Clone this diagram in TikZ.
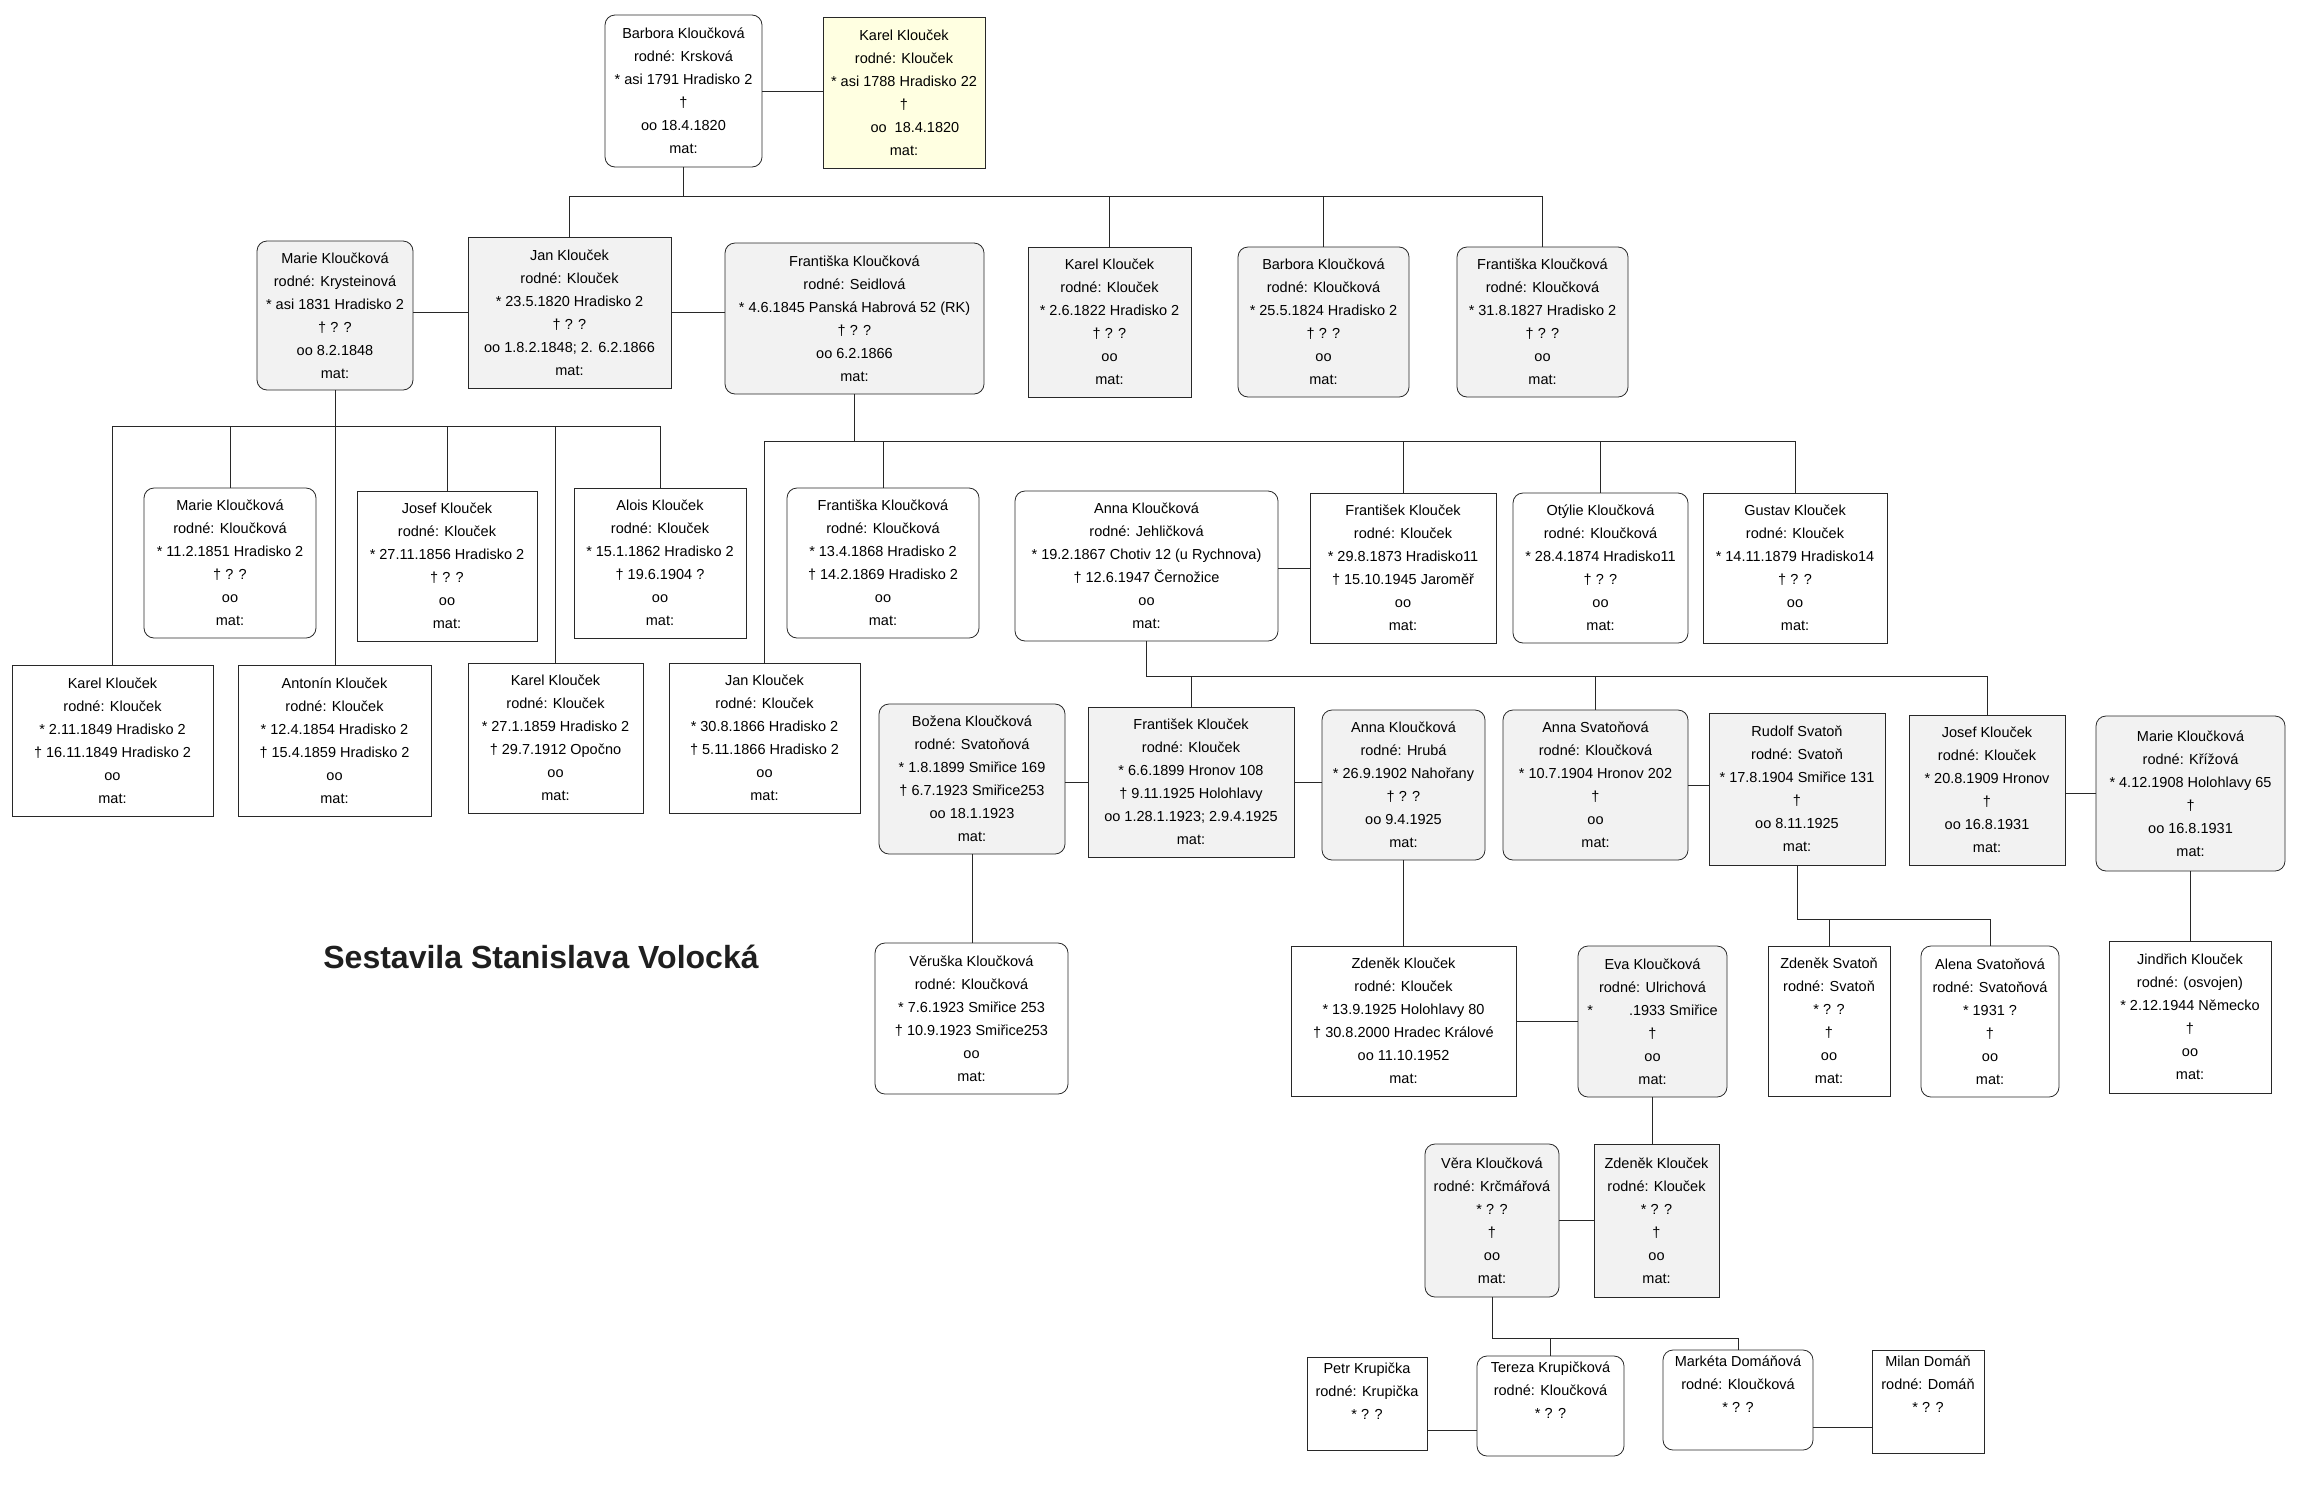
\documentclass[tikz,border=0pt]{standalone}
\usepackage{fontspec}
\setmainfont{Liberation Sans}
\definecolor{boxgray}{RGB}{242,242,242}
\definecolor{boxyellow}{RGB}{255,255,225}
\definecolor{lineclr}{RGB}{40,40,40}
\tikzset{
  pbox/.style={draw=lineclr, line width=0.8pt, align=center, inner sep=0pt, font=\fontsize{14.5}{23}\selectfont},
  sq/.style={pbox},
  rd/.style={pbox, rounded corners=10pt},
  gr/.style={fill=boxgray},
  wh/.style={fill=white},
  ye/.style={fill=boxyellow},
  ptext/.style={align=center, inner sep=0pt, font=\fontsize{14.5}{23}\selectfont},
  link/.style={draw=lineclr, line width=0.8pt},
}
\newcommand\personbox[7]{\node[#6, minimum width={(#4)-(#2)}, minimum height={(#5)-(#3)}] (#1) at ({((#2)+(#4))/2},{((#3)+(#5))/2}) {#7};}
\begin{document}
\begin{tikzpicture}[x=1pt,y=-1pt]
\useasboundingbox (0,0) rectangle (2306,1486);
\fill[white] (0,0) rectangle (2306,1486);
% row 0
\personbox{b0}{605}{15}{762}{167}{rd,wh}{Barbora Kloučková\\rodné: Krsková\\* asi 1791 Hradisko 2\\†\\oo 18.4.1820\\mat:}
\personbox{k0}{823}{17}{985}{168}{sq,ye}{Karel Klouček\\rodné: Klouček\\* asi 1788 Hradisko 22\\†\\\hspace{1.5em}oo\ \ 18.4.1820\\mat:}
% row 1
\personbox{mk}{257}{241}{413}{390}{rd,gr}{Marie Kloučková\\rodné: Krysteinová\\* asi 1831 Hradisko 2\\† ? ?\\oo 8.2.1848\\mat:}
\personbox{jan}{468}{237}{671}{388}{sq,gr}{Jan Klouček\\rodné: Klouček\\* 23.5.1820 Hradisko 2\\† ? ?\\oo 1.8.2.1848; 2. 6.2.1866\\mat:}
\personbox{fs}{725}{243}{984}{394}{rd,gr}{Františka Kloučková\\rodné: Seidlová\\* 4.6.1845 Panská Habrová 52 (RK)\\† ? ?\\oo 6.2.1866\\mat:}
\personbox{k1}{1028}{247}{1191}{397}{sq,gr}{Karel Klouček\\rodné: Klouček\\* 2.6.1822 Hradisko 2\\† ? ?\\oo\\mat:}
\personbox{bb1}{1238}{247}{1409}{397}{rd,gr}{Barbora Kloučková\\rodné: Kloučková\\* 25.5.1824 Hradisko 2\\† ? ?\\oo\\mat:}
\personbox{f1}{1457}{247}{1628}{397}{rd,gr}{Františka Kloučková\\rodné: Kloučková\\* 31.8.1827 Hradisko 2\\† ? ?\\oo\\mat:}
% row 2
\personbox{m51}{144}{488}{316}{638}{rd,wh}{Marie Kloučková\\rodné: Kloučková\\* 11.2.1851 Hradisko 2\\† ? ?\\oo\\mat:}
\personbox{jo56}{357}{491}{537}{641}{sq,wh}{Josef Klouček\\rodné: Klouček\\* 27.11.1856 Hradisko 2\\† ? ?\\oo\\mat:}
\personbox{al}{574}{488}{746}{638}{sq,wh}{Alois Klouček\\rodné: Klouček\\* 15.1.1862 Hradisko 2\\† 19.6.1904 ?\\oo\\mat:}
\personbox{f68}{787}{488}{979}{638}{rd,wh}{Františka Kloučková\\rodné: Kloučková\\* 13.4.1868 Hradisko 2\\† 14.2.1869 Hradisko 2\\oo\\mat:}
\personbox{aj}{1015}{491}{1278}{641}{rd,wh}{Anna Kloučková\\rodné: Jehličková\\* 19.2.1867 Chotiv 12 (u Rychnova)\\† 12.6.1947 Černožice\\oo\\mat:}
\personbox{fr73}{1310}{493}{1496}{643}{sq,wh}{František Klouček\\rodné: Klouček\\* 29.8.1873 Hradisko11\\† 15.10.1945 Jaroměř\\oo\\mat:}
\personbox{ot}{1513}{493}{1688}{643}{rd,wh}{Otýlie Kloučková\\rodné: Kloučková\\* 28.4.1874 Hradisko11\\† ? ?\\oo\\mat:}
\personbox{gu}{1703}{493}{1887}{643}{sq,wh}{Gustav Klouček\\rodné: Klouček\\* 14.11.1879 Hradisko14\\† ? ?\\oo\\mat:}
% row 3
\personbox{k49}{12}{665}{213}{816}{sq,wh}{Karel Klouček\\rodné: Klouček\\* 2.11.1849 Hradisko 2\\† 16.11.1849 Hradisko 2\\oo\\mat:}
\personbox{an}{238}{665}{431}{816}{sq,wh}{Antonín Klouček\\rodné: Klouček\\* 12.4.1854 Hradisko 2\\† 15.4.1859 Hradisko 2\\oo\\mat:}
\personbox{k59}{468}{663}{643}{813}{sq,wh}{Karel Klouček\\rodné: Klouček\\* 27.1.1859 Hradisko 2\\† 29.7.1912 Opočno\\oo\\mat:}
\personbox{j66}{669}{663}{860}{813}{sq,wh}{Jan Klouček\\rodné: Klouček\\* 30.8.1866 Hradisko 2\\† 5.11.1866 Hradisko 2\\oo\\mat:}
% row 4
\personbox{bo}{879}{704}{1065}{854}{rd,gr}{Božena Kloučková\\rodné: Svatoňová\\* 1.8.1899 Smiřice 169\\† 6.7.1923 Smiřice253\\oo 18.1.1923\\mat:}
\personbox{fr99}{1088}{707}{1294}{857}{sq,gr}{František Klouček\\rodné: Klouček\\* 6.6.1899 Hronov 108\\† 9.11.1925 Holohlavy\\oo 1.28.1.1923; 2.9.4.1925\\mat:}
\personbox{ah}{1322}{710}{1485}{860}{rd,gr}{Anna Kloučková\\rodné: Hrubá\\* 26.9.1902 Nahořany\\† ? ?\\oo 9.4.1925\\mat:}
\personbox{as}{1503}{710}{1688}{860}{rd,gr}{Anna Svatoňová\\rodné: Kloučková\\* 10.7.1904 Hronov 202\\†\\oo\\mat:}
\personbox{ru}{1709}{713}{1885}{865}{sq,gr}{Rudolf Svatoň\\rodné: Svatoň\\* 17.8.1904 Smiřice 131\\†\\oo 8.11.1925\\mat:}
\personbox{jo09}{1909}{715}{2065}{865}{sq,gr}{Josef Klouček\\rodné: Klouček\\* 20.8.1909 Hronov\\†\\oo 16.8.1931\\mat:}
\personbox{mkr}{2096}{716}{2285}{871}{rd,gr}{Marie Kloučková\\rodné: Křížová\\* 4.12.1908 Holohlavy 65\\†\\oo 16.8.1931\\mat:}
% row 5
\personbox{ve}{875}{943}{1068}{1094}{rd,wh}{Věruška Kloučková\\rodné: Kloučková\\* 7.6.1923 Smiřice 253\\† 10.9.1923 Smiřice253\\oo\\mat:}
\personbox{zd}{1291}{946}{1516}{1096}{sq,wh}{Zdeněk Klouček\\rodné: Klouček\\* 13.9.1925 Holohlavy 80\\† 30.8.2000 Hradec Králové\\oo 11.10.1952\\mat:}
\personbox{ev}{1578}{946}{1727}{1097}{rd,gr}{Eva Kloučková\\rodné: Ulrichová\\*\hspace{36pt}.1933 Smiřice\\†\\oo\\mat:}
\personbox{zs}{1768}{946}{1890}{1096}{sq,wh}{Zdeněk Svatoň\\rodné: Svatoň\\* ? ?\\†\\oo\\mat:}
\personbox{ale}{1921}{946}{2059}{1097}{rd,wh}{Alena Svatoňová\\rodné: Svatoňová\\* 1931 ?\\†\\oo\\mat:}
\personbox{ji}{2109}{941}{2271}{1093}{sq,wh}{Jindřich Klouček\\rodné: (osvojen)\\* 2.12.1944 Německo\\†\\oo\\mat:}
% row 6
\personbox{vk}{1425}{1144}{1559}{1297}{rd,gr}{Věra Kloučková\\rodné: Krčmářová\\* ? ?\\†\\oo\\mat:}
\personbox{zj}{1594}{1144}{1719}{1297}{sq,gr}{Zdeněk Klouček\\rodné: Klouček\\* ? ?\\†\\oo\\mat:}
% row 7
\personbox{pe}{1307}{1357}{1427}{1450}{sq,wh}{}
\personbox{te}{1477}{1356}{1624}{1456}{rd,wh}{}
\personbox{ma}{1663}{1350}{1813}{1450}{rd,wh}{}
\personbox{mi}{1872}{1350}{1984}{1453}{sq,wh}{}
\node[ptext, anchor=north] (pe-t) at ([yshift=-6pt]pe.north) {Petr Krupička\\rodné: Krupička\\* ? ?};
\node[ptext, anchor=north] (te-t) at ([yshift=-6pt]te.north) {Tereza Krupičková\\rodné: Kloučková\\* ? ?};
\node[ptext, anchor=north] (ma-t) at ([yshift=-6pt]ma.north) {Markéta Domáňová\\rodné: Kloučková\\* ? ?};
\node[ptext, anchor=north] (mi-t) at ([yshift=-6pt]mi.north) {Milan Domáň\\rodné: Domáň\\* ? ?};
% title
\node[font=\fontsize{32}{38}\selectfont\bfseries, text=black!88] (title) at (541,957) {Sestavila Stanislava Volocká};
% marriages
\draw[link] (b0.east) -- (b0.east -| k0.west);
\draw[link] (mk.east |- jan.west) -- (jan.west);
\draw[link] (jan.east) -- (jan.east -| fs.west);
\draw[link] (aj.east |- fr73.west) -- (fr73.west);
\draw[link] (bo.east |- fr99.west) -- (fr99.west);
\draw[link] (fr99.east) -- (fr99.east -| ah.west);
\draw[link] (as.east) -- (as.east -| ru.west);
\draw[link] (jo09.east |- mkr.west) -- (mkr.west);
\draw[link] (zd.east) -- (zd.east -| ev.west);
\draw[link] (vk.east) -- (vk.east -| zj.west);
\coordinate (mpt) at (0,1430);
\coordinate (mmm) at (0,1427);
\draw[link] (pe.east |- mpt) -- (te.west |- mpt);
\draw[link] (ma.east |- mmm) -- (mi.west |- mmm);
% descents
\coordinate (g1) at (0,196);
\draw[link] (b0.south) -- (b0.south |- g1);
\draw[link] (jan.north |- g1) -- (f1.north |- g1);
\foreach \n in {jan,k1,bb1,f1} \draw[link] (\n.north) -- (\n.north |- g1);
\coordinate (g2) at (0,426);
\draw[link] (mk.south) -- (mk.south |- an.north);
\draw[link] (k49.north |- g2) -- (al.north |- g2);
\foreach \n in {k49,m51,jo56,k59,al} \draw[link] (\n.north) -- (\n.north |- g2);
\coordinate (g3) at (0,441);
\draw[link] (fs.south) -- (fs.south |- g3);
\draw[link] (j66.north |- g3) -- (gu.north |- g3);
\foreach \n in {j66,f68,fr73,ot,gu} \draw[link] (\n.north) -- (\n.north |- g3);
\coordinate (g4) at (0,676);
\draw[link] (aj.south) -- (aj.south |- g4) -- (jo09.north |- g4);
\foreach \n in {fr99,as,jo09} \draw[link] (\n.north) -- (\n.north |- g4);
\draw[link] (bo.south) -- (bo.south |- ve.north);
\draw[link] (ah.south) -- (ah.south |- zd.north);
\coordinate (g5) at (0,919);
\draw[link] (ru.south) -- (ru.south |- g5) -- (ale.north |- g5);
\foreach \n in {zs,ale} \draw[link] (\n.north) -- (\n.north |- g5);
\draw[link] (mkr.south) -- (mkr.south |- ji.north);
\draw[link] (ev.south) -- (ev.south |- zj.north);
\coordinate (g6) at (0,1338);
\draw[link] (vk.south) -- (vk.south |- g6) -- (ma.north |- g6);
\foreach \n in {te,ma} \draw[link] (\n.north) -- (\n.north |- g6);
\end{tikzpicture}
\end{document}
